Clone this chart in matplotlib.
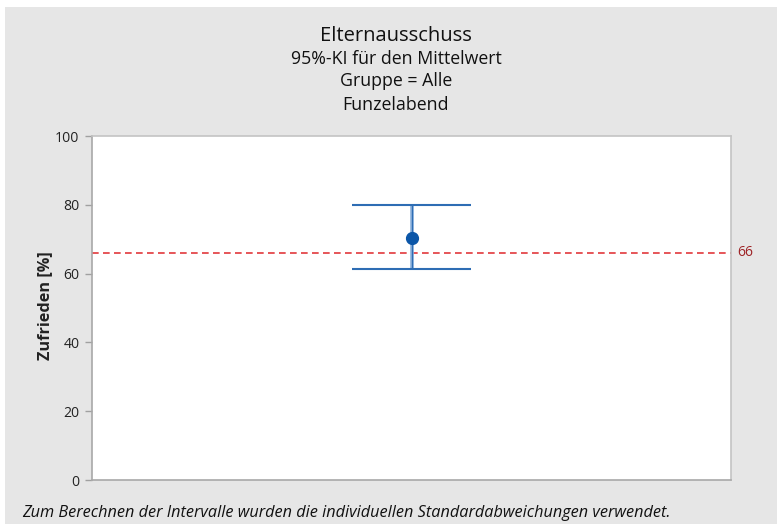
import matplotlib
matplotlib.use("Agg")
import matplotlib.pyplot as plt
from matplotlib.patches import Rectangle

# Data
groups = ["Alle"]
means = [70.4]
ci_lower = [61.2]
ci_upper = [79.9]
ref_value = 66
yticks = [0, 20, 40, 60, 80, 100]

title = "Elternausschuss"
subtitles = ["95%-KI für den Mittelwert", "Gruppe = Alle", "Funzelabend"]
ylabel = "Zufrieden [%]"
footnote = "Zum Berechnen der Intervalle wurden die individuellen Standardabweichungen verwendet."

plt.rcParams['font.family'] = ['Open Sans', 'DejaVu Sans']

W, H = 777, 524
fig = plt.figure(figsize=(W / 100, H / 100), dpi=100)
fig.patch.set_facecolor("white")
bg = Rectangle((5 / W, 0), 1 - 5 / W, 1 - 7 / H, transform=fig.transFigure,
               facecolor="#E6E6E6", edgecolor="none", zorder=-10)
fig.patches.append(bg)
renderer = fig.canvas.get_renderer()


def fit(t, target, dim="w"):
    bb = t.get_window_extent(renderer)
    cur = bb.width if dim == "w" else bb.height
    t.set_fontsize(t.get_fontsize() * target / cur)
    return t.get_fontsize()


def px(x, y):
    return x / W, 1 - y / H


ax_l, ax_r, ax_t, ax_b = 92, 731, 136, 480
ax = fig.add_axes([ax_l / W, 1 - ax_b / H, (ax_r - ax_l) / W, (ax_b - ax_t) / H])
ax.set_facecolor("white")

x = list(range(len(groups)))
ax.set_xlim(-0.5 * len(groups), 0.5 * len(groups))
ax.set_ylim(0, 100)

blue = "#2E6DB4"
for xi, m, lo, hi in zip(x, means, ci_lower, ci_upper):
    ax.vlines(xi, lo, hi, color="#8AB0DC", lw=2.6, zorder=3)
    ax.vlines(xi, lo, hi, color=blue, lw=0.9, zorder=3)
    ax.hlines([lo, hi], xi - 0.0925, xi + 0.0925, color=blue, lw=1.5, zorder=3)
    ax.plot([xi], [m], marker="o", ms=8.5, color="#0B56A8", zorder=4)

ax.axhline(ref_value, color="#E2383C", lw=1.2, ls=(0, (4, 2.6)), zorder=2)

probe = fig.text(0, 0, "60", fontsize=10)
tick_fs = fit(probe, 16)
probe.remove()

ax.text(1.009, ref_value, str(ref_value), transform=ax.get_yaxis_transform(),
        color="#9E2326", fontsize=tick_fs, va="center", ha="left")

ax.set_yticks(yticks)
ax.set_xticks([])
ax.tick_params(axis="y", direction="out", length=5, color="#A0A0A0", width=1,
               labelsize=tick_fs, labelcolor="#222222", pad=4)
for s in ax.spines.values():
    s.set_color("#C4C4C4")
    s.set_linewidth(1.2)
ax.spines["left"].set_color("#A8A8A8")
ax.spines["bottom"].set_color("#A8A8A8")

yl = fig.text(*px(45, 306), ylabel, rotation=90, ha="center", va="center",
              fontsize=10, fontweight="bold", color="#222222")
fit(yl, 109, "h")

cx = 396
t = fig.text(*px(cx, 40.7), title, ha="center", va="baseline", fontsize=10, color="#111111")
fit(t, 152)
subs = []
sizes = []
for yy, s, wdt in zip([64.3, 86.5, 110], subtitles, [211, 114, 104]):
    st = fig.text(*px(cx, yy), s, ha="center", va="baseline", fontsize=10, color="#111111")
    sizes.append(fit(st, wdt))
    subs.append(st)
sub_fs = sum(sizes) / len(sizes)
for st in subs:
    st.set_fontsize(sub_fs)

fn = fig.text(*px(21.7, 516.7), footnote, ha="left", va="baseline", fontsize=10,
              style="italic", color="#111111")
fit(fn, 649)

fig.savefig("out.png", dpi=100, facecolor=fig.get_facecolor())
